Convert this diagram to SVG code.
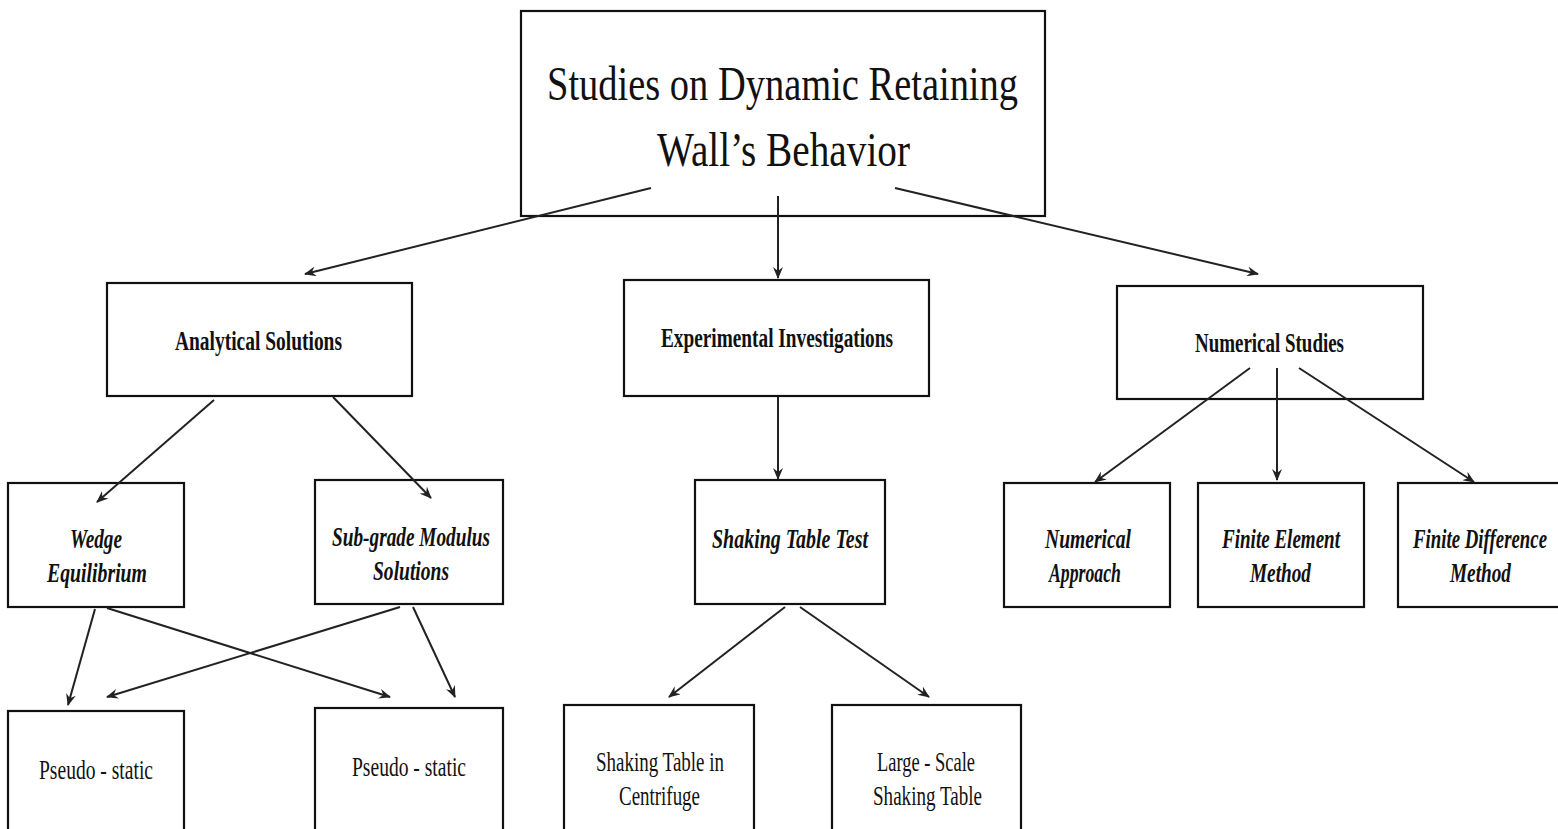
<svg xmlns="http://www.w3.org/2000/svg" width="1558" height="829" viewBox="0 0 1558 829">
<defs>
<style>
.box{fill:#fff;stroke:#111;stroke-width:2.2}
.t{font-family:"Liberation Serif","Times New Roman",serif;fill:#111;text-anchor:start}
.big{font-size:48px}
.b{font-size:28px;font-weight:bold}
.bi{font-size:28px;font-weight:bold;font-style:italic}
.r{font-size:28px}
.c line{stroke:#222;stroke-width:2;marker-end:url(#ah)}
</style>
<marker id="ah" markerWidth="12" markerHeight="10" refX="11" refY="5" orient="auto" markerUnits="userSpaceOnUse">
<path d="M0,0 L12,5 L0,10 L4,5 Z" fill="#222"/>
</marker>
</defs>
<rect width="1558" height="829" fill="#fff"/>
<g id="root">
<rect class="box" x="521" y="11" width="524" height="205"/>
<text class="t big" x="547" y="100" textLength="471" lengthAdjust="spacingAndGlyphs">Studies on Dynamic Retaining</text>
<text class="t big" x="657" y="166" textLength="253" lengthAdjust="spacingAndGlyphs">Wall’s Behavior</text>
</g>
<g id="analytical">
<rect class="box" x="107" y="283" width="305" height="113"/>
<text class="t b" x="175" y="350" textLength="167" lengthAdjust="spacingAndGlyphs">Analytical Solutions</text>
</g>
<g id="experimental">
<rect class="box" x="624" y="280" width="305" height="116"/>
<text class="t b" x="661" y="347" textLength="232" lengthAdjust="spacingAndGlyphs">Experimental Investigations</text>
</g>
<g id="numerical">
<rect class="box" x="1117" y="286" width="306" height="113"/>
<text class="t b" x="1195" y="352" textLength="149" lengthAdjust="spacingAndGlyphs">Numerical Studies</text>
</g>
<g id="wedge">
<rect class="box" x="8" y="483" width="176" height="124"/>
<text class="t bi" x="70" y="548" textLength="52" lengthAdjust="spacingAndGlyphs">Wedge</text>
<text class="t bi" x="47" y="582" textLength="100" lengthAdjust="spacingAndGlyphs">Equilibrium</text>
</g>
<g id="subgrade">
<rect class="box" x="315" y="480" width="188" height="124"/>
<text class="t bi" x="332" y="546" textLength="158" lengthAdjust="spacingAndGlyphs">Sub-grade Modulus</text>
<text class="t bi" x="373" y="580" textLength="76" lengthAdjust="spacingAndGlyphs">Solutions</text>
</g>
<g id="shaking">
<rect class="box" x="695" y="480" width="190" height="124"/>
<text class="t bi" x="712" y="548" textLength="156" lengthAdjust="spacingAndGlyphs">Shaking Table Test</text>
</g>
<g id="numapproach">
<rect class="box" x="1004" y="483" width="166" height="124"/>
<text class="t bi" x="1045" y="548" textLength="86" lengthAdjust="spacingAndGlyphs">Numerical</text>
<text class="t bi" x="1049" y="582" textLength="72" lengthAdjust="spacingAndGlyphs">Approach</text>
</g>
<g id="fem">
<rect class="box" x="1198" y="483" width="166" height="124"/>
<text class="t bi" x="1222" y="548" textLength="118" lengthAdjust="spacingAndGlyphs">Finite Element</text>
<text class="t bi" x="1250" y="582" textLength="61" lengthAdjust="spacingAndGlyphs">Method</text>
</g>
<g id="fdm">
<rect class="box" x="1398" y="483" width="170" height="124"/>
<text class="t bi" x="1413" y="548" textLength="134" lengthAdjust="spacingAndGlyphs">Finite Difference</text>
<text class="t bi" x="1450" y="582" textLength="61" lengthAdjust="spacingAndGlyphs">Method</text>
</g>
<g id="pseudo1">
<rect class="box" x="8" y="711" width="176" height="130"/>
<text class="t r" x="39" y="779" textLength="114" lengthAdjust="spacingAndGlyphs">Pseudo - static</text>
</g>
<g id="pseudo2">
<rect class="box" x="315" y="708" width="188" height="130"/>
<text class="t r" x="352" y="776" textLength="114" lengthAdjust="spacingAndGlyphs">Pseudo - static</text>
</g>
<g id="centrifuge">
<rect class="box" x="564" y="705" width="190" height="130"/>
<text class="t r" x="596" y="771" textLength="128" lengthAdjust="spacingAndGlyphs">Shaking Table in</text>
<text class="t r" x="619" y="805" textLength="81" lengthAdjust="spacingAndGlyphs">Centrifuge</text>
</g>
<g id="largescale">
<rect class="box" x="832" y="705" width="189" height="130"/>
<text class="t r" x="877" y="771" textLength="98" lengthAdjust="spacingAndGlyphs">Large - Scale</text>
<text class="t r" x="873" y="805" textLength="109" lengthAdjust="spacingAndGlyphs">Shaking Table</text>
</g>
<g id="connectors" class="c">
<line x1="651" y1="188" x2="305" y2="274"/>
<line x1="778" y1="196" x2="778" y2="278"/>
<line x1="895" y1="188" x2="1258" y2="274"/>
<line x1="214" y1="400" x2="97" y2="502"/>
<line x1="333" y1="397" x2="431" y2="498"/>
<line x1="778" y1="397" x2="778" y2="479"/>
<line x1="1250" y1="368" x2="1095" y2="482"/>
<line x1="1277" y1="368" x2="1277" y2="480"/>
<line x1="1299" y1="368" x2="1474" y2="482"/>
<line x1="95" y1="609" x2="68" y2="705"/>
<line x1="107" y1="608" x2="390" y2="697"/>
<line x1="400" y1="607" x2="107" y2="697"/>
<line x1="413" y1="607" x2="455" y2="697"/>
<line x1="785" y1="607" x2="669" y2="697"/>
<line x1="800" y1="607" x2="929" y2="697"/>
</g>
</svg>
